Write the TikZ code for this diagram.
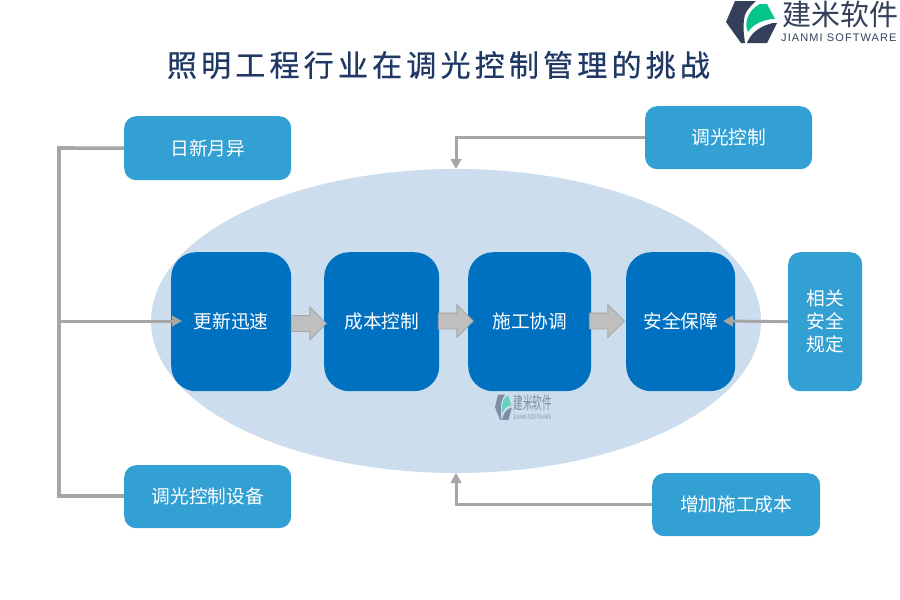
\documentclass[tikz,border=0pt]{standalone}
\usepackage{fontspec}
\setmainfont{Liberation Sans}
\newfontfamily\cjk{Noto Sans CJK SC}
\newfontfamily\cjktitle[LetterSpace=14,FakeBold=0.6]{Noto Sans CJK SC}
\usetikzlibrary{shapes.arrows,shapes.geometric,arrows.meta,calc}
\definecolor{boxblue}{HTML}{33A0D3}
\definecolor{deepblue}{HTML}{0070C0}
\definecolor{ellblue}{HTML}{CCDEED}
\definecolor{linegray}{HTML}{A6A6A6}
\definecolor{blockgray}{HTML}{BFBFBF}
\definecolor{navy}{HTML}{1F3864}
\definecolor{logodark}{HTML}{343F5C}
\definecolor{logogreen}{HTML}{05C68A}
\tikzset{
  x=1pt,y=-1pt,
  lightbox/.style={fill=boxblue,rounded corners=12pt,text=white,inner sep=0pt,anchor=north west,font=\cjk\fontsize{18.7}{23}\selectfont,align=center},
  deepbox/.style={fill=deepblue,rounded corners=25pt,text=white,inner sep=0pt,anchor=north west,minimum height=139pt,font=\cjk\fontsize{18.7}{23}\selectfont,align=center},
  conn/.style={draw=linegray,line width=3pt},
  bracket/.style={draw=linegray,line width=3.6pt},
  connarrow/.style={conn,-{Triangle[length=10pt,width=10.5pt]}},
  blockarrow/.style={single arrow,draw=linegray,fill=blockgray,line width=.8pt,minimum width=32pt,minimum height=35pt,single arrow head extend=8.5pt,single arrow head indent=0pt,inner sep=0pt,shape border rotate=0},
  logo/.pic={
    \fill[logodark] (9,1) -- (30,1) .. controls (22,8) and (18,14) .. (18,20) .. controls (17,28) and (18,36) .. (19,43) -- (15,43) -- (0,22) -- cycle;
    \fill[logodark] (21,43) .. controls (24,36) and (30,27) .. (47,23) -- (51,23) -- (41,43) -- cycle;
    \fill[logogreen] (34,4) -- (41,4) -- (49,19) .. controls (38,19) and (27,24) .. (22,32) .. controls (20,28) and (20,24) .. (21,20) .. controls (23,12) and (28,7) .. (34,4) -- cycle;
    \node[transform shape,anchor=west,inner sep=0pt,text=logodark,font=\cjk\fontsize{29}{30}\selectfont] (zh) at (56,14) {建米软件};
    \node[transform shape,anchor=west,inner sep=0pt,text=logodark,font=\fontsize{11}{12}\selectfont\addfontfeature{LetterSpace=10}] (en) at (55,38) {JIANMI SOFTWARE};
  }
}
\begin{document}
\begin{tikzpicture}
\useasboundingbox (0,0) rectangle (900,600);
\fill[white] (0,0) rectangle (900,600);
% ellipse
\node[fill=ellblue,ellipse,minimum width=610pt,minimum height=304pt,inner sep=0pt] (ell) at (456,321) {};
% logos
\pic[scale=1] (mainlogo) at (726,0) {logo};
\begin{scope}[opacity=.5,transparency group]
\pic[xscale=.33,yscale=.6] (wmlogo) at (495,394) {logo};
\end{scope}
% title
\node[text=navy,inner sep=0pt,font=\cjktitle\fontsize{30}{32}\selectfont] (title) at (438.5,65) {照明工程行业在调光控制管理的挑战};
% light boxes
\node[lightbox,minimum width=167pt,minimum height=64pt] (a) at (124,116) {日新月异};
\node[lightbox,minimum width=167pt,minimum height=63pt] (b) at (645,106) {调光控制};
\node[lightbox,minimum width=167pt,minimum height=63pt] (c) at (124,465) {调光控制设备};
\node[lightbox,minimum width=168pt,minimum height=63pt] (d) at (652,473) {增加施工成本};
\node[lightbox,minimum width=74pt,minimum height=139pt] (e) at (788,252) {相关\\安全\\规定};
% deep boxes
\node[deepbox,minimum width=120pt] (p1) at (171,252) {更新迅速};
\node[deepbox,minimum width=115pt] (p2) at (324,252) {成本控制};
\node[deepbox,minimum width=123pt] (p3) at (468,252) {施工协调};
\node[deepbox,minimum width=109pt] (p4) at (626,252) {安全保障};
% block arrows
\node[blockarrow] (ba1) at (304.8,323.5) {\rule{0pt}{15pt}};
\node[blockarrow] (ba2) at (451.8,321) {\rule{0pt}{15pt}};
\node[blockarrow] (ba3) at (602.8,321) {\rule{0pt}{15pt}};
% connectors
\coordinate (topin) at (456,169);
\coordinate (botin) at (456,473);
\coordinate (lefttop) at (59,148);
\coordinate (leftbot) at (59,496);
\coordinate (leftmid) at (59,321);
\coordinate (midend) at (182,321);
\coordinate (rightend) at (723,321);
\draw[bracket] (a.west) -- (lefttop) -- (leftbot) -- (leftbot -| c.west);
\draw[connarrow] (leftmid) -- (midend);
\draw[connarrow] (b.west) -| (topin);
\draw[connarrow] (d.west) -| (botin);
\draw[connarrow] (e.west) -- (rightend);
\end{tikzpicture}
\end{document}
